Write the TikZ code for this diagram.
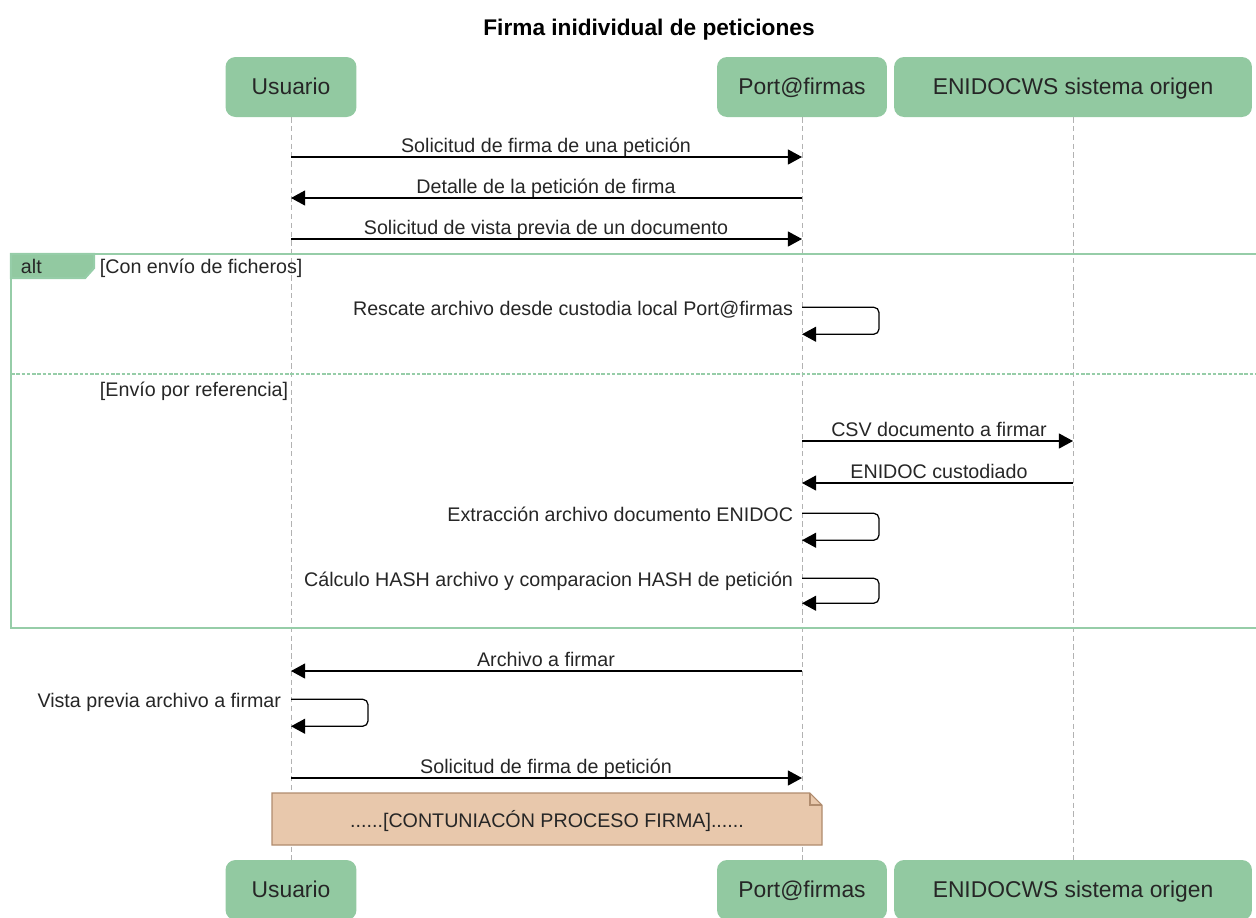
\documentclass[tikz,border=0pt]{standalone}
\usepackage{fontspec}
\setmainfont{Liberation Sans}
\usetikzlibrary{arrows.meta}
\definecolor{partgreen}{RGB}{146,201,161}
\definecolor{framegreen}{RGB}{150,205,168}
\definecolor{notefill}{RGB}{232,200,172}
\definecolor{noteline}{RGB}{176,140,110}

\begin{document}
\begin{tikzpicture}[x=0.02cm,y=-0.02cm,
		font=\fontsize{11.2}{13}\selectfont,
		actor/.style={fill=partgreen,rounded corners=0.2cm,minimum height=1.2cm,text=black!85,font=\fontsize{13}{15}\selectfont,text height=.87em,text depth=0pt},
		life/.style={gray!60,dash pattern=on 3pt off 2pt,line width=0.4pt},
		msg/.style={line width=0.7pt,-{Triangle[length=8pt,width=8.5pt]}},
		lbl/.style={inner sep=1.5pt,text depth=.1em,text=black!85},
		frame/.style={framegreen,line width=1.3pt}]
	\useasboundingbox (0,0) rectangle (1256,917);
	\node[font=\fontsize{12.9}{15}\selectfont\bfseries] (title) at (649,30) {Firma inidividual de peticiones};
	% participants
	\node[actor,minimum width=2.62cm] (usrT) at (291,87) {Usuario};
	\node[actor,minimum width=3.4cm] (prtT) at (802,87) {Port@firmas};
	\node[actor,minimum width=7.16cm] (eniT) at (1073,87) {ENIDOCWS sistema origen};
	\node[actor,minimum width=2.62cm] (usrB) at (291,890) {Usuario};
	\node[actor,minimum width=3.4cm] (prtB) at (802,890) {Port@firmas};
	\node[actor,minimum width=7.16cm] (eniB) at (1073,890) {ENIDOCWS sistema origen};
	\draw[life] (usrT) -- (usrB);
	\draw[life] (prtT) -- (prtB);
	\draw[life] (eniT) -- (eniB);
	% messages
	\node[lbl,anchor=south] (m1) at (546,157) {Solicitud de firma de una petición};
	\draw[msg] (usrT |- m1.south) -- (prtT |- m1.south);
	\node[lbl,anchor=south] (m2) at (546,198) {Detalle de la petición de firma};
	\draw[msg] (prtT |- m2.south) -- (usrT |- m2.south);
	\node[lbl,anchor=south] (m3) at (546,239) {Solicitud de vista previa de un documento};
	\draw[msg] (usrT |- m3.south) -- (prtT |- m3.south);
	% alt
	\draw[frame] (11,254) rectangle (1262,628);
	\draw[frame,dash pattern=on 2pt off 1pt] (11,374) -- (1262,374);
	\filldraw[frame,fill=partgreen] (11,254) -- (94,254) -- (94,268) -- (85,278) -- (11,278) -- cycle;
	\node[lbl,anchor=west] (alt) at (18,267) {alt};
	\node[lbl,anchor=west] (g1) at (97,267) {[Con envío de ficheros]};
	\node[lbl,anchor=west] (g2) at (97,390) {[Envío por referencia]};
	\node[lbl,anchor=east] (m4) at (796,309) {Rescate archivo desde custodia local Port@firmas};
	\draw[msg,rounded corners=3pt] ([yshift=1pt]prtT |- m4.east) -- ++(77,0) -- ++(0,27) -- ++(-77,0);
	\node[lbl,anchor=south] (m5) at (939,441) {CSV documento a firmar};
	\draw[msg] (prtT |- m5.south) -- (eniT |- m5.south);
	\node[lbl,anchor=south] (m6) at (939,483) {ENIDOC custodiado};
	\draw[msg] (eniT |- m6.south) -- (prtT |- m6.south);
	\node[lbl,anchor=east] (m7) at (796,515) {Extracción archivo documento ENIDOC};
	\draw[msg,rounded corners=3pt] ([yshift=1pt]prtT |- m7.east) -- ++(77,0) -- ++(0,27) -- ++(-77,0);
	\node[lbl,anchor=east] (m8) at (796,580) {Cálculo HASH archivo y comparacion HASH de petición};
	\draw[msg,rounded corners=3pt] ([yshift=1pt]prtT |- m8.east) -- ++(77,0) -- ++(0,25) -- ++(-77,0);
	% after alt
	\node[lbl,anchor=south] (m9) at (546,671) {Archivo a firmar};
	\draw[msg] (prtT |- m9.south) -- (usrT |- m9.south);
	\node[lbl,anchor=east] (m10) at (284,701) {Vista previa archivo a firmar};
	\draw[msg,rounded corners=3pt] ([yshift=1pt]usrT |- m10.east) -- ++(77,0) -- ++(0,27) -- ++(-77,0);
	\node[lbl,anchor=south] (m11) at (546,778) {Solicitud de firma de petición};
	\draw[msg] (usrT |- m11.south) -- (prtT |- m11.south);
	% note
	\filldraw[fill=notefill,draw=noteline,line width=0.6pt] (272,793) -- (810,793) -- (822,805) -- (822,845) -- (272,845) -- cycle;
	\draw[noteline,line width=0.6pt] (810,793) -- (810,805) -- (822,805);
	\node[lbl] (note) at (547,820) {......[CONTUNIACÓN PROCESO FIRMA]......};
\end{tikzpicture}
\end{document}
